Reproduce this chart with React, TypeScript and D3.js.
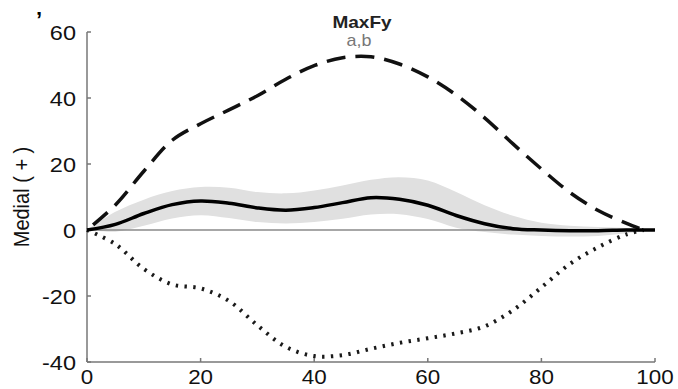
import React from "react";
import * as d3 from "d3";

// percent of stance, sampled every 5 %
const pct = [0, 5, 10, 15, 20, 25, 30, 35, 40, 45, 50, 55, 60, 65, 70, 75, 80, 85, 90, 95, 100];
const meanFy = [0, 1.7, 5, 7.7, 8.8, 8.1, 6.7, 6, 6.8, 8.3, 9.8, 9.3, 7.5, 4.4, 1.9, 0.4, 0, -0.2, -0.2, 0, 0];
const bandUpper = [0, 5.5, 9.2, 11.8, 13, 12.8, 11.5, 11.1, 12, 13.5, 15.2, 16, 15, 11.5, 7.5, 4.3, 2.2, 1.3, 0.9, 0.6, 0];
const bandLower = [0, -0.5, 1.3, 3.5, 4.5, 3.6, 2.4, 2, 2.4, 3.4, 4.7, 4.8, 3.3, 0.7, -0.6, -1.4, -1.8, -2, -1.8, -1, 0];
const maxFy = [0, 7.6, 17.8, 27.2, 32.2, 36.4, 40.7, 45.7, 49.8, 52.2, 52.5, 50.3, 46.4, 40.9, 34, 26.1, 18.5, 11.4, 5.9, 2, 0];
const minFy = [0, -4.3, -11.8, -16.5, -17.7, -21.5, -28.9, -35.4, -38.2, -37.9, -36, -34.2, -32.8, -31.3, -29.2, -24.3, -17.4, -10.3, -5.2, -1.3, 0];
const xTicks = [0, 20, 40, 60, 80, 100];
const yTicks = [-40, -20, 0, 20, 40, 60];

const W = 678;
const H = 389;
const FONT = "'Liberation Sans', Arial, Helvetica, sans-serif";
const SX = 1.12; // source picture is slightly stretched horizontally

export default function App() {
  const x = d3.scaleLinear().domain([0, 100]).range([87, 655]);
  const y = d3.scaleLinear().domain([-40, 60]).range([362, 32]);

  const pts = pct.map((p, i) => ({ p, m: meanFy[i], hi: bandUpper[i], lo: bandLower[i], mx: maxFy[i], mn: minFy[i] }));
  type P = (typeof pts)[number];
  // the extreme curves stop just short of 100 %
  const extPts = pts.slice(0, 20).concat([{ ...pts[20], p: 98 }]);

  const area = d3
    .area<P>()
    .x((d) => x(d.p))
    .y0((d) => y(d.lo))
    .y1((d) => y(d.hi))
    .curve(d3.curveCatmullRom)(pts);
  const line = (f: (d: P) => number, data: P[]) =>
    d3
      .line<P>()
      .x((d) => x(d.p))
      .y((d) => y(f(d)))
      .curve(d3.curveCatmullRom)(data) || "";

  const axisColor = "#777";

  return (
    <svg width={W} height={H} style={{ position: "absolute", left: 0, top: 0, background: "#fff" }} fontFamily={FONT}>
      {/* stray panel mark */}
      <text x={36} y={27} fontSize={22} fontWeight="bold" fill="#000">’</text>

      {/* band */}
      <path d={area || ""} fill="#e0e0e0" />

      {/* zero line */}
      <line x1={x(0)} x2={x(100)} y1={y(0)} y2={y(0)} stroke="#8a8a8a" strokeWidth={1.6} />

      {/* axes */}
      <line x1={x(0)} x2={x(0)} y1={y(60)} y2={y(-40)} stroke={axisColor} strokeWidth={1.5} />
      <line x1={x(0)} x2={x(100)} y1={y(-40)} y2={y(-40)} stroke={axisColor} strokeWidth={1.5} />
      {yTicks.map((t) => (
        <g key={"y" + t}>
          <line x1={x(0)} x2={x(0) + 4} y1={y(t)} y2={y(t)} stroke={axisColor} strokeWidth={1.5} />
          <text
            transform={`translate(76,${y(t)}) scale(${SX},1)`}
            dy="0.36em"
            textAnchor="end"
            fontSize={21}
            fill="#111"
          >
            {t}
          </text>
        </g>
      ))}
      {xTicks.map((t) => (
        <g key={"x" + t}>
          <line x1={x(t)} x2={x(t)} y1={y(-40)} y2={y(-40) - 4} stroke={axisColor} strokeWidth={1.5} />
          <text transform={`translate(${x(t)},384) scale(${SX},1)`} textAnchor="middle" fontSize={20} fill="#111">
            {t}
          </text>
        </g>
      ))}

      {/* extremes */}
      <path
        d={line((d) => d.mx, extPts)}
        fill="none"
        stroke="#111"
        strokeWidth={3.5}
        strokeDasharray="19,10"
        strokeDashoffset={-8}
      />
      <path d={line((d) => d.mn, extPts)} fill="none" stroke="#1a1a1a" strokeWidth={4} strokeDasharray="2.4,6.4" />

      {/* mean */}
      <path d={line((d) => d.m, pts)} fill="none" stroke="#000" strokeWidth={3.5} />

      {/* titles */}
      <text transform={`translate(362,28) scale(${SX},1)`} textAnchor="middle" fontSize={17} fontWeight="bold" fill="#222">
        MaxFy
      </text>
      <text transform={`translate(359,46) scale(${SX},1)`} textAnchor="middle" fontSize={16} fill="#777">
        a,b
      </text>
      <text
        transform={`translate(21,197) scale(${SX},1) rotate(-90)`}
        dy="0.35em"
        textAnchor="middle"
        fontSize={20}
        fill="#111"
      >
        Medial ( + )
      </text>
    </svg>
  );
}
